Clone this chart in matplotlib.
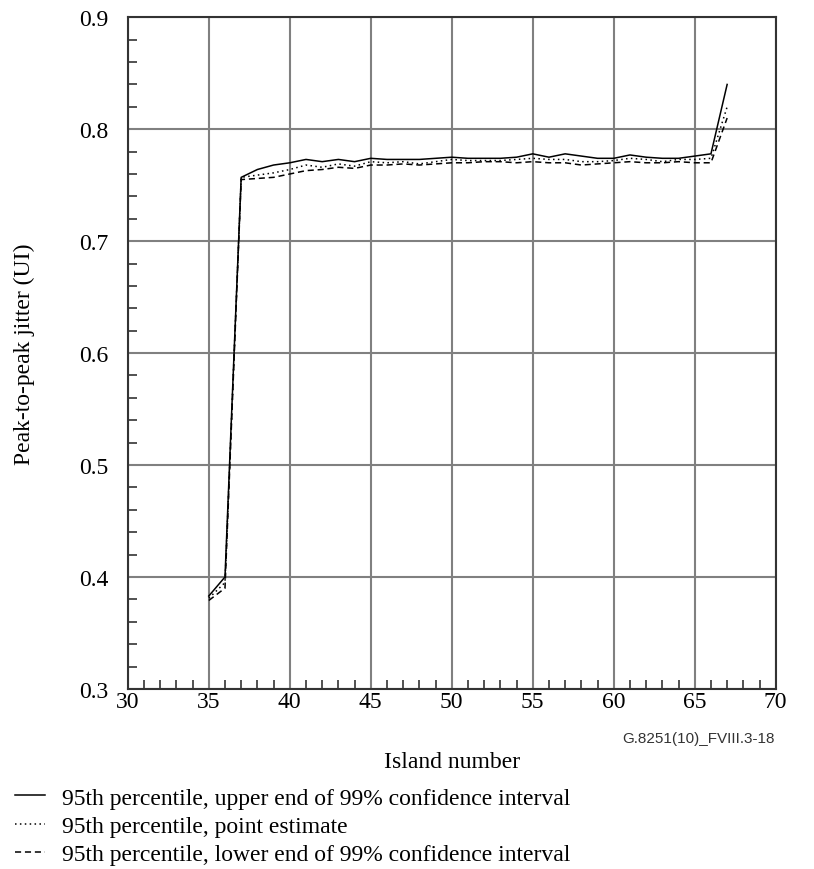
import numpy as np
import matplotlib.pyplot as plt
from matplotlib.ticker import MultipleLocator

# island numbers and the three percentile curves
islands = list(range(35, 68))
upper = [0.383, 0.400, 0.757, 0.764, 0.768, 0.770, 0.773, 0.771, 0.773, 0.771,
         0.774, 0.773, 0.773, 0.773, 0.774, 0.775, 0.774, 0.774, 0.774, 0.775,
         0.778, 0.775, 0.778, 0.776, 0.774, 0.774, 0.777, 0.775, 0.774, 0.774,
         0.776, 0.778, 0.840]
point = [0.381, 0.395, 0.757, 0.759, 0.761, 0.764, 0.768, 0.766, 0.769, 0.767,
         0.771, 0.770, 0.771, 0.769, 0.771, 0.773, 0.772, 0.772, 0.772, 0.773,
         0.774, 0.773, 0.773, 0.771, 0.771, 0.772, 0.774, 0.773, 0.771, 0.773,
         0.773, 0.774, 0.820]
lower = [0.379, 0.390, 0.755, 0.756, 0.757, 0.760, 0.763, 0.764, 0.766, 0.765,
         0.768, 0.768, 0.769, 0.768, 0.769, 0.770, 0.770, 0.771, 0.771, 0.770,
         0.771, 0.770, 0.770, 0.768, 0.769, 0.770, 0.771, 0.770, 0.770, 0.771,
         0.770, 0.770, 0.810]

labels = ["95th percentile, upper end of 99% confidence interval",
          "95th percentile, point estimate",
          "95th percentile, lower end of 99% confidence interval"]

plt.rcParams['font.family'] = ['Liberation Serif', 'DejaVu Serif']

fig = plt.figure(figsize=(8.14, 8.7), dpi=100)
ax = fig.add_axes([0.157, 0.207, 0.796, 0.772])

l1, = ax.plot(islands, upper, color='black', lw=1.1, ls='-')
l2, = ax.plot(islands, point, color='black', lw=1.1, ls=(0, (1, 2.2)))
l3, = ax.plot(islands, lower, color='black', lw=1.1, ls=(0, (4, 2.5)))

ax.set_xlim(30, 70)
ax.set_ylim(0.3, 0.9)
ax.xaxis.set_major_locator(MultipleLocator(5))
ax.xaxis.set_minor_locator(MultipleLocator(1))
ax.yaxis.set_major_locator(MultipleLocator(0.1))
ax.yaxis.set_minor_locator(MultipleLocator(0.02))
ax.set_yticks(ax.get_yticks())
ax.set_yticklabels([f"{v:.1f}" for v in ax.get_yticks()])
ax.set_ylim(0.3, 0.9)

ax.grid(True, which='major', color='#808080', lw=1.5)
ax.set_axisbelow(True)
ax.tick_params(which='major', length=0, labelsize=17)
ax.tick_params(axis='y', which='major', pad=14)
ax.tick_params(axis='x', which='major', pad=1.5)
ax.tick_params(which='minor', direction='in', length=6.5, width=1.2, color='#333333')
for s in ax.spines.values():
    s.set_linewidth(1.5)
    s.set_color('#333333')

ax.set_xlabel("Island number", fontsize=17)
ax.set_ylabel("Peak-to-peak jitter (UI)", fontsize=17)
ax.xaxis.set_label_coords(0.5, -0.092)
ax.yaxis.set_label_coords(-0.143, 0.5)

fig.text(0.952, 0.1506, "G.8251(10)_FVIII.3-18", ha='right', va='center',
         fontsize=11, family='Liberation Sans', color='#333333')

fig.legend([l1, l2, l3], labels, loc='upper left', bbox_to_anchor=(0.018, 0.094),
           frameon=False, fontsize=17, handlelength=1.27, handletextpad=0.72,
           labelspacing=0.29, borderaxespad=0, borderpad=0)

fig.savefig('out.png', dpi=100)
